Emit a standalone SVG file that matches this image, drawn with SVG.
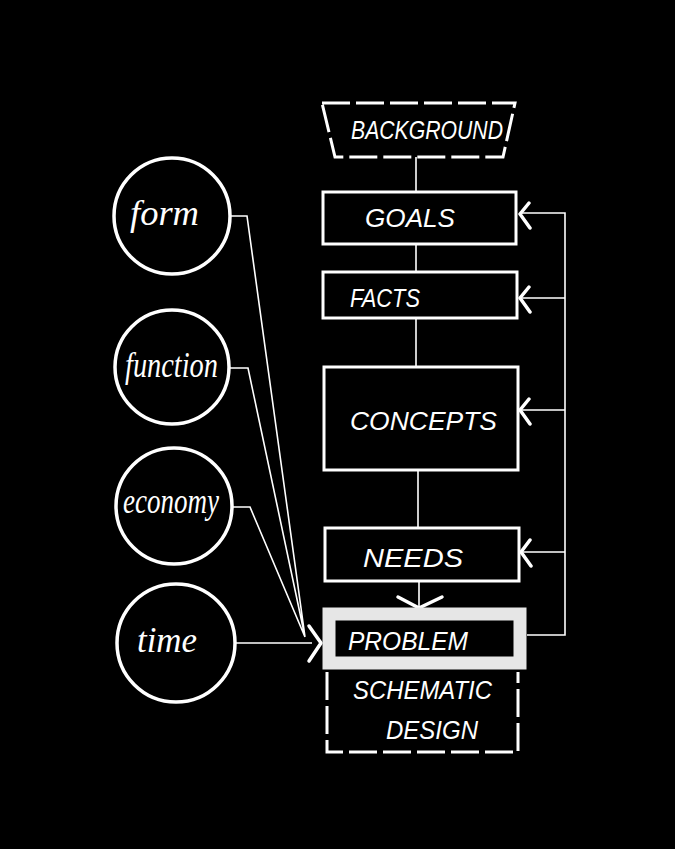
<svg xmlns="http://www.w3.org/2000/svg" width="675" height="849" viewBox="0 0 675 849">
<style>
.box{fill:none;stroke:#fff;stroke-width:3}
.dash{fill:none;stroke:#fff;stroke-width:3;stroke-dasharray:28 6}
.circ{fill:none;stroke:#fff;stroke-width:3.5}
.line{fill:none;stroke:#fff;stroke-width:1.6}
.chev{fill:none;stroke:#fff;stroke-width:3.5;stroke-linecap:round;stroke-linejoin:round}
.lbl{fill:#fff;font-family:"Liberation Sans",sans-serif;font-size:25px;font-style:italic}
.hand{fill:#fff;font-family:"Liberation Serif",serif;font-size:36px;font-style:italic}
</style>
<rect width="675" height="849" fill="#000"/>
<g id="connectors">
<path class="line" d="M416 157V192M416 244V272M416 318V367M418 470V528M419 581V608"/>
<path class="chev" d="M398 597L419 608L442 597"/>
<path class="line" d="M231 216H247L305 637M229 368H248L305 637M233 507H250L305 637M236 643H312"/>
<path class="chev" d="M309 626L321 643L309 661"/>
<path class="line" d="M527 635H565V213H521M565 298H521M565 410H521M565 552H521"/>
<path class="chev" d="M529 203L520 214L530 228M529 287L520 298L530 312M529 399L520 410L530 424M530 540L521 552L531 566"/>
</g>
<g id="background"><path class="dash" d="M322 103H515L503 157H335Z"/><text class="lbl" x="351" y="139" font-size="24" textLength="152" lengthAdjust="spacingAndGlyphs">BACKGROUND</text></g>
<g id="goals"><rect class="box" x="323" y="192" width="193" height="52"/><text class="lbl" x="365" y="227" font-size="30" textLength="90" lengthAdjust="spacingAndGlyphs">GOALS</text></g>
<g id="facts"><rect class="box" x="323" y="272" width="194" height="46"/><text class="lbl" x="350" y="307" font-size="28" textLength="70" lengthAdjust="spacingAndGlyphs">FACTS</text></g>
<g id="concepts"><rect class="box" x="324" y="367" width="194" height="103"/><text class="lbl" x="350" y="430" font-size="30" textLength="147" lengthAdjust="spacingAndGlyphs">CONCEPTS</text></g>
<g id="needs"><rect class="box" x="325" y="528" width="194" height="53"/><text class="lbl" x="363" y="567" font-size="30" textLength="100" lengthAdjust="spacingAndGlyphs">NEEDS</text></g>
<g id="problem"><rect x="329" y="614" width="191" height="49" fill="none" stroke="#e6e6e6" stroke-width="13"/><text class="lbl" x="348" y="650" font-size="25" textLength="120" lengthAdjust="spacingAndGlyphs">PROBLEM</text></g>
<g id="schematic-design"><path class="dash" d="M327 672V752H518V672"/><text class="lbl" x="353" y="699" textLength="139" lengthAdjust="spacingAndGlyphs">SCHEMATIC</text><text class="lbl" x="386" y="739" font-size="28" textLength="92" lengthAdjust="spacingAndGlyphs">DESIGN</text></g>
<g id="form"><circle class="circ" cx="172" cy="216" r="58"/><text class="hand" x="130" y="225" font-size="40" textLength="69" lengthAdjust="spacingAndGlyphs">form</text></g>
<g id="function"><circle class="circ" cx="172" cy="367" r="57"/><text class="hand" x="125" y="377" font-size="35" textLength="93" lengthAdjust="spacingAndGlyphs">function</text></g>
<g id="economy"><circle class="circ" cx="174" cy="506" r="58"/><text class="hand" x="123" y="513" font-size="35" textLength="96" lengthAdjust="spacingAndGlyphs">economy</text></g>
<g id="time"><circle class="circ" cx="176" cy="643" r="59"/><text class="hand" x="137" y="652" font-size="40" textLength="60" lengthAdjust="spacingAndGlyphs">time</text></g>
</svg>
